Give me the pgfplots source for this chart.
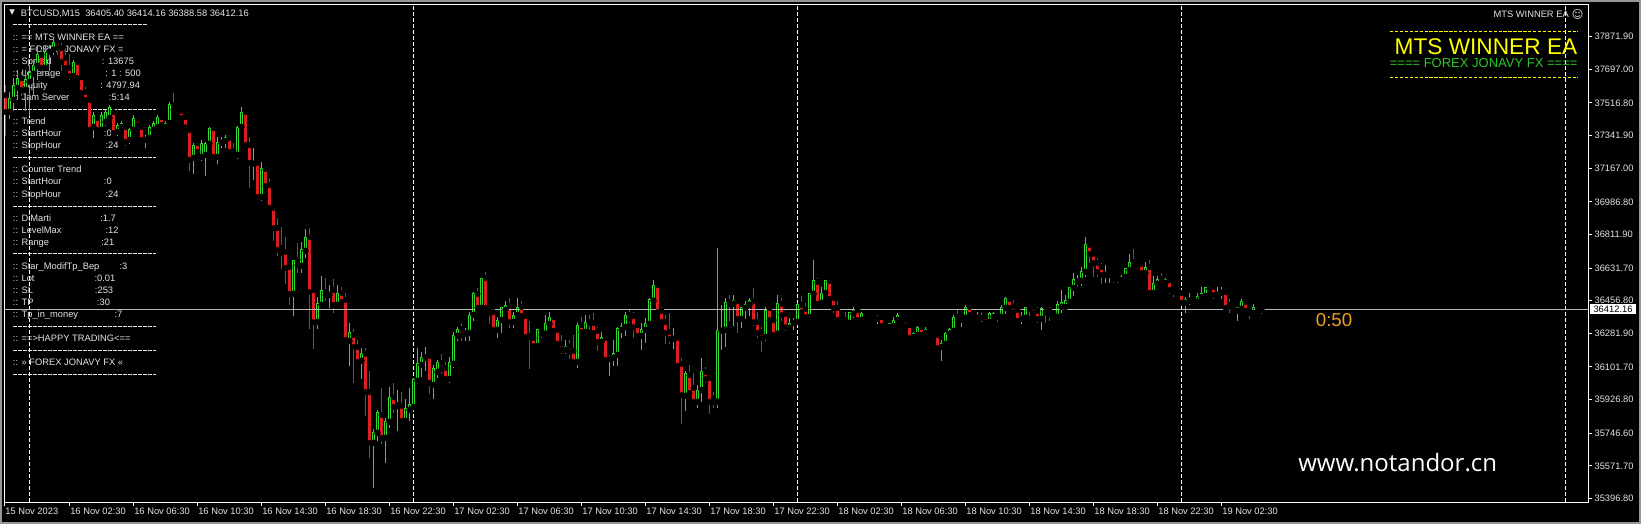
\documentclass[border=0pt]{standalone}
\usepackage{fontspec}
\setmainfont{Liberation Sans}
\newfontfamily\dejavu{DejaVu Sans}
\newfontfamily\osans{Open Sans}
\usepackage{pgfplots}
\usepackage{pgfplotstable}
\pgfplotsset{compat=1.18}
\definecolor{bull}{RGB}{45,220,45}
\definecolor{bear}{RGB}{220,30,30}
\definecolor{txt}{RGB}{228,228,228}
\definecolor{pline}{RGB}{185,185,185}
\definecolor{wframe}{RGB}{150,150,150}
\definecolor{ylw}{RGB}{255,255,0}
\definecolor{grn}{RGB}{40,200,40}
\definecolor{org}{RGB}{240,160,30}
\newcommand\sm{\fontsize{7}{8.4}\selectfont}
\newcommand\ptx[2]{\node[anchor=base west, inner sep=0pt, font=\sm, text=txt] at (#1) {#2};}

\pgfplotstableread{
i o h l c
0 37559 37613 37345 37468
1 37468 37575 37436 37543
2 37533 37650 37479 37613
3 37597 37693 37533 37650
4 37650 37682 37559 37586
5 37586 37693 37479 37640
6 37629 37720 37452 37682
7 37672 37747 37559 37715
8 37715 37827 37640 37774
9 37774 37801 37666 37704
10 37704 37827 37666 37790
11 37790 37827 37693 37801
12 37801 37865 37774 37843
13 37843 37854 37774 37811
14 37811 37838 37693 37736
15 37758 37811 37693 37704
16 37704 37774 37640 37661
17 37661 37747 37650 37736
18 37736 37747 37640 37650
19 37655 37666 37559 37570
20 37575 37597 37522 37533
21 37533 37548 37361 37372
22 37387 37468 37334 37452
23 37436 37452 37361 37372
24 37372 37463 37356 37452
25 37414 37479 37398 37468
26 37436 37501 37425 37490
27 37468 37479 37345 37356
28 37361 37409 37345 37398
29 37387 37420 37377 37409
30 37387 37398 37291 37307
31 37318 37382 37302 37372
32 37372 37452 37361 37436
33 37431 37441 37387 37398
34 37387 37398 37307 37318
35 37318 37345 37280 37334
36 37329 37398 37318 37387
37 37372 37420 37361 37409
38 37387 37452 37377 37441
39 37441 37452 37387 37398
40 37387 37420 37377 37409
41 37409 37517 37398 37506
42 37506 37565 37468 37479
43 37485 37495 37452 37463
44 37474 37485 37425 37436
45 37441 37452 37377 37387
46 37372 37382 37157 37211
47 37222 37302 37141 37291
48 37302 37313 37244 37254
49 37227 37313 37211 37302
50 37238 37307 37130 37302
51 37297 37387 37286 37382
52 37382 37398 37222 37227
53 37227 37329 37190 37307
54 37302 37329 37280 37318
55 37313 37340 37280 37329
56 37329 37334 37249 37254
57 37260 37297 37233 37238
58 37238 37393 37217 37387
59 37387 37490 37372 37463
60 37468 37479 37280 37291
61 37291 37329 37061 37195
62 37190 37270 37109 37200
63 37195 37206 37007 37012
64 37012 37200 36992 37163
65 37163 37168 37061 37072
66 37077 37109 36943 36954
67 36954 36959 36782 36846
68 36846 36900 36697 36729
69 36739 36851 36632 36713
70 36718 36798 36547 36632
71 36637 36648 36434 36493
72 36493 36675 36380 36675
73 36675 36766 36610 36648
74 36643 36771 36610 36729
75 36724 36841 36691 36798
76 36798 36846 36310 36503
77 36514 36525 36203 36342
78 36342 36476 36310 36440
79 36434 36589 36423 36509
80 36503 36578 36456 36487
81 36487 36536 36418 36503
82 36514 36568 36391 36434
83 36434 36536 36423 36498
84 36498 36530 36445 36450
85 36461 36493 36235 36246
86 36241 36337 36107 36284
87 36273 36305 36016 36208
88 36208 36241 36123 36128
89 36134 36198 36042 36172
90 36172 36198 35844 35967
91 35967 36080 35619 35694
92 35694 35769 35453 35748
93 35748 35866 35710 35855
94 35844 35984 35694 35721
95 35721 35828 35587 35812
96 35806 35994 35779 35940
97 35940 36011 35855 35887
98 35893 35978 35759 35898
99 35893 35967 35806 35812
100 35812 35925 35806 35877
101 35871 35984 35817 35898
102 35887 36042 35871 36032
103 36027 36198 36016 36118
104 36112 36177 36053 36155
105 36150 36208 36085 36161
106 36161 36161 35962 36016
107 36005 36112 35935 36091
108 36074 36139 36047 36128
109 36123 36166 36064 36091
110 36096 36123 36027 36037
111 36037 36155 36021 36123
112 36118 36289 36101 36273
113 36268 36315 36246 36305
114 36305 36337 36246 36273
115 36279 36310 36241 36284
116 36284 36391 36246 36380
117 36380 36503 36353 36498
118 36493 36520 36413 36418
119 36418 36578 36413 36578
120 36578 36610 36413 36418
121 36418 36423 36337 36391
122 36396 36407 36295 36300
123 36300 36369 36257 36353
124 36353 36418 36284 36418
125 36407 36450 36391 36429
126 36429 36466 36315 36342
127 36342 36396 36315 36380
128 36380 36466 36369 36423
129 36423 36450 36364 36375
130 36375 36380 36257 36262
131 36268 36348 36091 36262
132 36257 36268 36208 36214
133 36214 36305 36203 36300
134 36300 36315 36257 36279
135 36279 36375 36268 36332
136 36332 36391 36326 36369
137 36369 36375 36284 36295
138 36300 36305 36219 36225
139 36225 36273 36172 36193
140 36193 36241 36172 36214
141 36214 36246 36145 36182
142 36188 36268 36123 36128
143 36128 36332 36101 36326
144 36326 36369 36279 36289
145 36289 36380 36279 36342
146 36342 36375 36305 36337
147 36337 36386 36279 36284
148 36295 36315 36188 36235
149 36235 36284 36225 36257
150 36257 36262 36134 36139
151 36145 36161 36058 36155
152 36150 36241 36107 36172
153 36166 36315 36107 36310
154 36300 36337 36257 36321
155 36315 36391 36268 36380
156 36380 36407 36342 36359
157 36375 36391 36262 36315
158 36326 36337 36257 36268
159 36268 36332 36193 36305
160 36300 36364 36235 36332
161 36332 36466 36326 36461
162 36456 36563 36450 36541
163 36541 36541 36391 36396
164 36402 36418 36332 36342
165 36342 36380 36225 36284
166 36289 36386 36225 36252
167 36252 36310 36198 36257
168 36257 36262 36096 36107
169 36118 36145 35801 35951
170 35946 36080 35866 36064
171 36058 36107 35951 35962
172 35989 36064 35898 35914
173 35914 36005 35887 35978
174 35978 36145 35914 36080
175 36074 36101 36021 36037
176 36042 36047 35850 35914
177 35935 35967 35882 35914
178 35914 36734 35887 36295
179 36295 36429 36193 36305
180 36300 36471 36214 36445
181 36450 36487 36353 36440
182 36440 36487 36326 36456
183 36456 36456 36289 36359
184 36359 36423 36315 36418
185 36418 36450 36364 36434
186 36434 36466 36380 36456
187 36456 36520 36326 36342
188 36342 36396 36257 36284
189 36289 36315 36182 36257
190 36262 36423 36246 36407
191 36418 36423 36348 36353
192 36353 36359 36268 36273
193 36279 36487 36268 36440
194 36440 36466 36353 36380
195 36386 36407 36295 36315
196 36310 36359 36295 36337
197 36337 36364 36305 36348
198 36342 36440 36342 36434
199 36434 36482 36386 36396
200 36413 36440 36364 36369
201 36369 36498 36364 36493
202 36493 36670 36482 36563
203 36557 36578 36434 36440
204 36445 36525 36440 36498
205 36498 36563 36493 36563
206 36563 36563 36461 36466
207 36471 36476 36396 36418
208 36418 36450 36348 36353
209 36364 36380 36337 36342
210 36353 36396 36326 36332
211 36337 36391 36337 36391
212 36386 36418 36369 36407
213 36407 36418 36348 36353
214 36353 36391 36342 36386
215 36391 36402 36364 36369
216 36380 36391 36353 36359
217 36375 36380 36353 36359
218 36359 36380 36332 36369
219 36369 36380 36310 36321
220 36337 36342 36305 36315
221 36315 36337 36305 36332
222 36321 36369 36315 36353
223 36353 36386 36342 36380
224 36369 36375 36337 36342
225 36353 36369 36315 36321
226 36326 36332 36252 36257
227 36262 36289 36257 36279
228 36273 36321 36268 36315
229 36315 36321 36268 36273
230 36284 36315 36268 36305
231 36310 36315 36289 36295
232 36295 36300 36262 36268
233 36273 36279 36198 36203
234 36208 36246 36134 36225
235 36225 36284 36219 36279
236 36279 36310 36273 36300
237 36295 36380 36284 36369
238 36369 36407 36348 36353
239 36353 36369 36321 36364
240 36364 36429 36353 36423
241 36423 36429 36375 36380
242 36391 36396 36359 36364
243 36364 36391 36359 36380
244 36364 36386 36348 36380
245 36375 36380 36332 36342
246 36342 36391 36337 36386
247 36369 36391 36364 36386
248 36386 36391 36348 36369
249 36369 36429 36359 36423
250 36418 36476 36386 36471
251 36466 36482 36413 36418
252 36429 36456 36391 36396
253 36407 36413 36342 36348
254 36359 36391 36337 36369
255 36364 36423 36353 36423
256 36423 36423 36380 36413
257 36423 36434 36391 36391
258 36402 36418 36342 36359
259 36359 36418 36300 36413
260 36423 36434 36342 36396
261 36402 36418 36353 36380
262 36391 36407 36364 36369
263 36369 36450 36369 36434
264 36423 36514 36396 36445
265 36423 36487 36418 36456
266 36450 36530 36445 36525
267 36525 36605 36487 36573
268 36557 36594 36541 36568
269 36563 36637 36541 36616
270 36610 36793 36584 36756
271 36756 36756 36659 36707
272 36707 36713 36584 36659
273 36659 36681 36584 36610
274 36637 36654 36547 36594
275 36594 36648 36557 36605
276 36594 36610 36557 36610
277 36600 36605 36552 36573
278 36589 36600 36552 36573
279 36568 36594 36563 36589
280 36584 36632 36578 36627
281 36621 36702 36616 36664
282 36664 36729 36643 36648
283 36664 36670 36632 36648
284 36654 36659 36594 36605
285 36605 36659 36600 36637
286 36637 36670 36498 36498
287 36498 36584 36498 36547
288 36547 36584 36541 36573
289 36573 36605 36536 36541
290 36552 36578 36547 36568
291 36568 36578 36493 36514
292 36525 36536 36482 36503
293 36514 36525 36493 36498
294 36498 36514 36445 36445
295 36445 36476 36396 36461
296 36456 36493 36434 36466
297 36471 36476 36445 36450
298 36450 36498 36445 36482
299 36476 36525 36471 36498
300 36482 36530 36471 36525
301 36520 36530 36509 36530
302 36530 36530 36471 36487
303 36487 36525 36476 36503
304 36498 36525 36471 36514
305 36503 36509 36413 36418
306 36434 36461 36391 36423
307 36429 36440 36391 36402
308 36402 36423 36353 36418
309 36413 36461 36407 36450
310 36450 36456 36396 36402
311 36413 36413 36359 36391
312 36391 36434 36386 36423
313 36423 36434 36396 36402
314 36405.40 36414.16 36388.58 36412.16
}\candles

\begin{document}
\begin{tikzpicture}
\path[use as bounding box] (0pt,0pt) rectangle (1230.75pt,-393pt);
\begin{scope}[x=0.75pt,y=-0.75pt]
\fill[black] (0,0) rectangle (1641,524);
% header
\node[font=\dejavu\fontsize{5.5}{6}\selectfont, text=txt, inner sep=0pt] at (12.2,12.7) {▼};
\ptx{20.7,16.2}{BTCUSD,M15\ \ 36405.40 36414.16 36388.58 36412.16}
% info panel separators
\foreach \yy/\xe in {25/146.7,110/156,158/156,206/156,253.3/156,326/156,350/156,374/156}
  \draw[txt, line width=0.75pt, dash pattern=on 3pt off 0.75pt] (12.7,\yy) -- (\xe,\yy);
\ptx{12.7,41}{:: == MTS WINNER EA ==}
\ptx{12.7,53}{:: = FOREX JONAVY FX =}
\ptx{12.7,65}{:: Spread}      \ptx{101.7,65}{: 13675}
\ptx{12.7,77}{:: Leverage}    \ptx{105,77}{: 1 : 500}
\ptx{12.7,89}{:: Equity}      \ptx{100,89}{: 4797.94}
\ptx{12.7,101}{:: Jam Server} \ptx{108.7,101}{:5:14}
\ptx{12.7,125}{:: Trend}
\ptx{12.7,137}{:: StartHour}  \ptx{103.7,137}{:0}
\ptx{12.7,149}{:: StopHour}   \ptx{105.3,149}{:24}
\ptx{12.7,173}{:: Counter Trend}
\ptx{12.7,185}{:: StartHour}  \ptx{103.7,185}{:0}
\ptx{12.7,197}{:: StopHour}   \ptx{105.3,197}{:24}
\ptx{12.7,221}{:: DiMarti}    \ptx{100,221}{:1.7}
\ptx{12.7,233}{:: LevelMax}   \ptx{105.3,233}{:12}
\ptx{12.7,245}{:: Range}      \ptx{101,245}{:21}
\ptx{12.7,269.3}{:: Star\_ModifTp\_Bep} \ptx{119.3,269.3}{:3}
\ptx{12.7,281.3}{:: Lot}      \ptx{94.3,281.3}{:0.01}
\ptx{12.7,293.3}{:: SL}       \ptx{94.7,293.3}{:253}
\ptx{12.7,305.3}{:: TP}       \ptx{96.7,305.3}{:30}
\ptx{12.7,317.3}{:: Tp\_in\_money} \ptx{114.3,317.3}{:7}
\ptx{12.7,341}{:: ==>HAPPY TRADING<==}
\ptx{12.7,365.3}{:: >> FOREX JONAVY FX <<}
\end{scope}

\begin{axis}[
  at={(3.375pt,-376.5pt)}, anchor=south west,
  scale only axis, width=1187.625pt, height=373.125pt,
  xmin=-0.25, xmax=395.625, ymin=35377.9, ymax=38044.5,
  scaled y ticks=false, scaled x ticks=false,
  axis line style={white, line width=0.75pt},
  tick style={white, line width=0.75pt},
  tick align=outside, major tick length=3pt,
  xtick pos=left, ytick pos=right, yticklabel pos=right,
  xtick={16,32,...,304},
  xticklabels={16 Nov 02:30,16 Nov 06:30,16 Nov 10:30,16 Nov 14:30,16 Nov 18:30,16 Nov 22:30,17 Nov 02:30,17 Nov 06:30,17 Nov 10:30,17 Nov 14:30,17 Nov 18:30,17 Nov 22:30,18 Nov 02:30,18 Nov 06:30,18 Nov 10:30,18 Nov 14:30,18 Nov 18:30,18 Nov 22:30,19 Nov 02:30},
  extra x ticks={-0.25}, extra x tick labels={15 Nov 2023},
  ytick={35396.8,35571.7,35746.6,35926.8,36101.7,36281.9,36456.8,36631.7,36811.9,36986.8,37167.0,37341.9,37516.8,37697.0,37871.9},
  yticklabels={35396.80,35571.70,35746.60,35926.80,36101.70,36281.90,36456.80,36631.70,36811.90,36986.80,37167.00,37341.90,37516.80,37697.00,37871.90},
  every tick label/.append style={font=\sm, text=txt},
  xticklabel style={anchor=base west, inner sep=0pt, xshift=0.4pt, yshift=-6.2pt},
  yticklabel style={anchor=west, inner sep=0pt, xshift=1.7pt},
]
\pgfplotsinvokeforeach{6,102,198,294,390}{
  \draw[white, line width=0.75pt, dash pattern=on 3pt off 1.5pt] (axis cs:#1,35377.9) -- (axis cs:#1,38044.5);
}
% wicks
\addplot[forget plot, only marks, mark=none, restrict expr to domain={\thisrow{c}-\thisrow{o}}{0.001:100000},
  error bars/.cd, y dir=both, y explicit, error mark=none, error bar style={line width=0.75pt, draw=bull}]
  table[x=i, y=o, y error plus expr={\thisrow{h}-\thisrow{o}+2.68}, y error minus expr={\thisrow{o}-\thisrow{l}+2.68}] {\candles};
\addplot[forget plot, only marks, mark=none, restrict expr to domain={\thisrow{c}-\thisrow{o}}{-100000:0},
  error bars/.cd, y dir=both, y explicit, error mark=none, error bar style={line width=0.75pt, draw=bear}]
  table[x=i, y=o, y error plus expr={\thisrow{h}-\thisrow{o}+2.68}, y error minus expr={\thisrow{o}-\thisrow{l}+2.68}] {\candles};
% bodies
\addplot[forget plot, only marks, mark=none, restrict expr to domain={\thisrow{c}-\thisrow{o}}{0.001:100000},
  error bars/.cd, y dir=both, y explicit, error mark=none, error bar style={line width=2.25pt, draw=bull}]
  table[x=i, y=o, y error plus expr={\thisrow{c}-\thisrow{o}+2.68}, y error minus expr={2.68}] {\candles};
\addplot[forget plot, only marks, mark=none, restrict expr to domain={\thisrow{c}-\thisrow{o}}{-100000:0},
  error bars/.cd, y dir=both, y explicit, error mark=none, error bar style={line width=2.25pt, draw=bear}]
  table[x=i, y=c, y error plus expr={\thisrow{o}-\thisrow{c}+2.68}, y error minus expr={2.68}] {\candles};
% hollow interior of bull candles
\addplot[forget plot, only marks, mark=none, restrict expr to domain={\thisrow{c}-\thisrow{o}}{0.001:100000},
  error bars/.cd, y dir=both, y explicit, error mark=none, error bar style={line width=0.75pt, draw=black}]
  table[x=i, y expr={\thisrow{o}+2.68}, y error plus expr={max(\thisrow{c}-\thisrow{o}-5.36,0)}, y error minus expr={0}] {\candles};
% bid line
\addplot[forget plot, pline, line width=0.75pt] coordinates {(-5,36412.16) (400,36412.16)};
\end{axis}

\begin{scope}[x=0.75pt,y=-0.75pt]
% current price box
\fill[white] (1590,304) rectangle (1636,314);
\node[font=\sm, text=black, inner sep=0pt] at (1613,309) {36412.16};
% top-right labels
\ptx{1493.3,17.3}{MTS WINNER EA}
\node[font=\dejavu\fontsize{8.3}{9}\selectfont, text=txt, inner sep=0pt] at (1577.7,14) {☺};
\draw[ylw, line width=0.75pt, dash pattern=on 2.5pt off 1.2pt] (1390,31.7) -- (1577.7,31.7);
\draw[ylw, line width=0.75pt, dash pattern=on 2.5pt off 1.2pt] (1390,77.3) -- (1577.7,77.3);
\node[anchor=base east, inner sep=0pt, font=\fontsize{17}{18}\selectfont, text=ylw] at (1577.5,55) {MTS WINNER EA};
\node[anchor=base east, inner sep=0pt, font=\fontsize{9.75}{11}\selectfont, text=grn] at (1577.7,67.5) {==== FOREX JONAVY FX ====};
% countdown and watermark
\node[anchor=base west, inner sep=0pt, font=\fontsize{14}{15}\selectfont, text=org] at (1315.6,326.5) {0:50};
\node[anchor=base west, inner sep=0pt, font=\osans\fontsize{18}{20}\selectfont, text=white] at (1298,471) {www.notandor.cn};
% window frame
\draw[wframe, line width=1.5pt] (1,1) rectangle (1640,523);
\end{scope}
\end{tikzpicture}
\end{document}
